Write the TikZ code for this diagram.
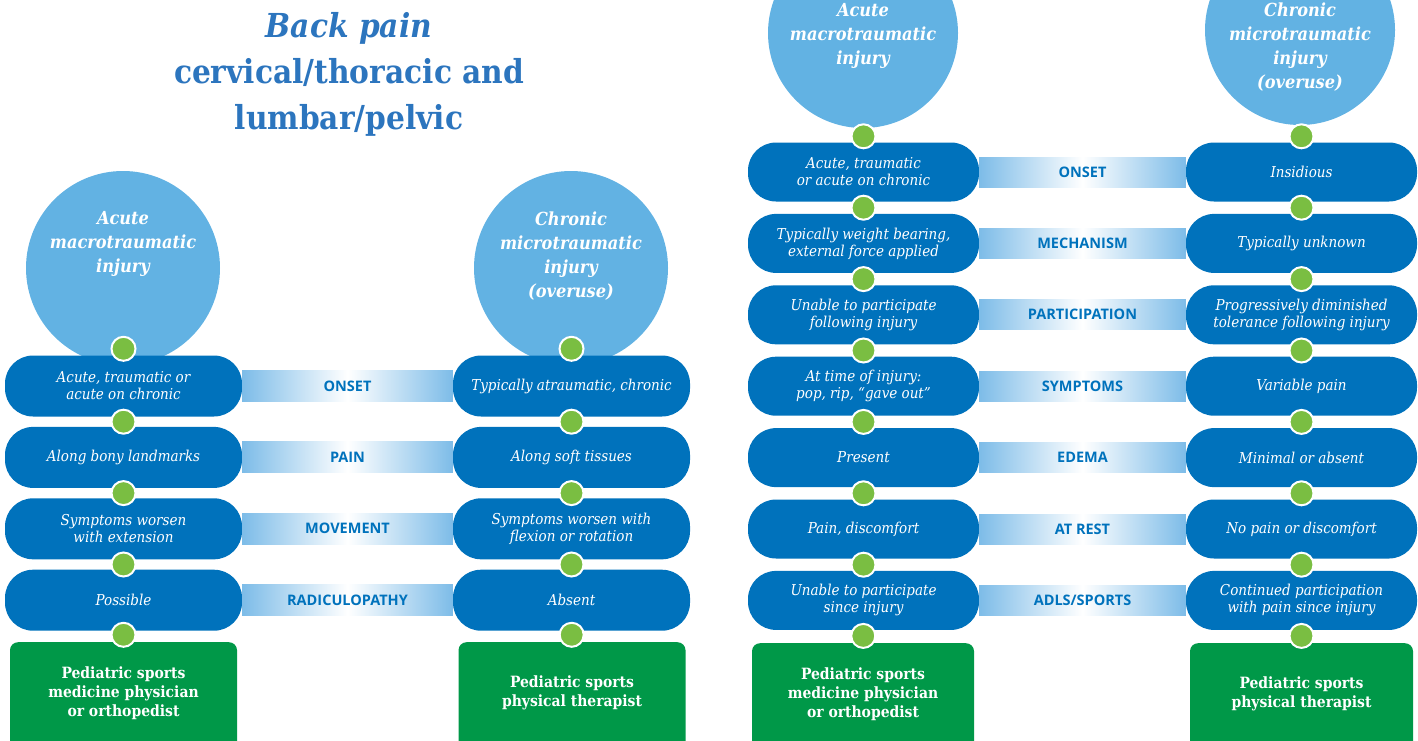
\documentclass[tikz,border=0pt]{standalone}
\usepackage{fontspec}
\setmainfont{DejaVu Serif Condensed}
\newfontfamily\capsfont{Open Sans}
\usetikzlibrary{positioning,calc}
\definecolor{titleblue}{RGB}{44,117,190}
\definecolor{pillblue}{RGB}{0,114,188}
\definecolor{circblue}{RGB}{98,178,227}
\definecolor{bandblue}{RGB}{125,188,232}
\definecolor{dotgreen}{RGB}{122,190,66}
\definecolor{boxgreen}{RGB}{0,152,72}
\tikzset{
  ttl/.style={text=titleblue,align=center,inner sep=0pt,font=\fontsize{33}{46}\selectfont\bfseries},
  bubble/.style={circle,fill=circblue,minimum size=194pt,inner sep=0pt},
  bubtext/.style={text=white,align=center,inner sep=0pt,font=\fontsize{18}{24}\selectfont\bfseries\itshape},
  pill/.style={fill=pillblue,rounded corners=28pt,minimum width=237pt,minimum height=61pt,inner sep=0pt,text=white,align=center,font=\fontsize{15}{17}\selectfont\itshape},
  pillB/.style={pill,minimum width=231pt,minimum height=59pt},
  band/.style={left color=bandblue,right color=bandblue,middle color=white},
  lbl/.style={text=pillblue,inner sep=0pt,font=\capsfont\bfseries\fontsize{14.5}{16}\selectfont},
  refer/.style={fill=boxgreen,rounded corners=8pt,minimum width=227pt,minimum height=116pt,text depth=18pt,inner sep=0pt,text=white,align=center,anchor=north,font=\fontsize{15.5}{19}\selectfont\bfseries},
  dot/.style={circle,fill=dotgreen,draw=white,line width=2pt,minimum size=24pt,inner sep=0pt}
}
\begin{document}
\begin{tikzpicture}[x=1pt,y=-1pt]
\clip (0,0) rectangle (1418,740);
\node[ttl] (ttl) at (349,74) {{\itshape Back pain}\\cervical/thoracic and\\lumbar/pelvic};
% cervical/thoracic and lumbar/pelvic
\node[bubble] (acA) at (123,268) {};
\node[bubble] (chA) at (571,268) {};
\node[bubtext] (acAt) at (123,244) {Acute\\macrotraumatic\\injury};
\node[bubtext] (chAt) at (571,256) {Chronic\\microtraumatic\\injury\\(overuse)};
\node[pill] (a1l) at (123.5,386) {Acute, traumatic or\\acute on chronic};
\node[pill,below=10pt of a1l] (a2l) {Along bony landmarks};
\node[pill,below=10pt of a2l] (a3l) {Symptoms worsen\\with extension};
\node[pill,below=10pt of a3l] (a4l) {Possible};
\node[pill] (a1r) at (571.5,386) {Typically atraumatic, chronic};
\node[pill,below=10pt of a1r] (a2r) {Along soft tissues};
\node[pill,below=10pt of a2r] (a3r) {Symptoms worsen with\\flexion or rotation};
\node[pill,below=10pt of a3r] (a4r) {Absent};
\shade[band] ($(a1l.east)+(0,-15.5)$) rectangle ($(a1r.west)+(0,15.5)$);
\shade[band] ($(a2l.east)+(0,-15.5)$) rectangle ($(a2r.west)+(0,15.5)$);
\shade[band] ($(a3l.east)+(0,-15.5)$) rectangle ($(a3r.west)+(0,15.5)$);
\shade[band] ($(a4l.east)+(0,-15.5)$) rectangle ($(a4r.west)+(0,15.5)$);
\node[lbl] (onA) at ($(a1l.east)!0.5!(a1r.west)$) {ONSET};
\node[lbl] (paA) at ($(a2l.east)!0.5!(a2r.west)$) {PAIN};
\node[lbl] (moA) at ($(a3l.east)!0.5!(a3r.west)$) {MOVEMENT};
\node[lbl] (raA) at ($(a4l.east)!0.5!(a4r.west)$) {RADICULOPATHY};
\node[refer] (gAl) at (123.5,642) {Pediatric sports\\medicine physician\\or orthopedist};
\node[refer] (gAr) at (572,642) {Pediatric sports\\physical therapist};
\node[dot] (dAl1) at ($(a1l.north)+(0,-6.5)$) {};
\node[dot] (dAl2) at ($(a1l.south)!0.5!(a2l.north)$) {};
\node[dot] (dAl3) at ($(a2l.south)!0.5!(a3l.north)$) {};
\node[dot] (dAl4) at ($(a3l.south)!0.5!(a4l.north)$) {};
\node[dot] (dAl5) at ($(a4l.south)!0.35!(gAl.north)$) {};
\node[dot] (dAr1) at ($(a1r.north)+(0,-6.5)$) {};
\node[dot] (dAr2) at ($(a1r.south)!0.5!(a2r.north)$) {};
\node[dot] (dAr3) at ($(a2r.south)!0.5!(a3r.north)$) {};
\node[dot] (dAr4) at ($(a3r.south)!0.5!(a4r.north)$) {};
\node[dot] (dAr5) at ($(a4r.south)!0.35!(gAr.north)$) {};
% second panel
\node[bubble,minimum size=190pt] (acB) at (863,33) {};
\node[bubble,minimum size=190pt] (chB) at (1300,30) {};
\node[bubtext] (acBt) at (863,36) {Acute\\macrotraumatic\\injury};
\node[bubtext] (chBt) at (1300,47) {Chronic\\microtraumatic\\injury\\(overuse)};
\node[pillB] (b1l) at (863.5,172) {Acute, traumatic\\or acute on chronic};
\node[pillB,below=12pt of b1l] (b2l) {Typically weight bearing,\\external force applied};
\node[pillB,below=12pt of b2l] (b3l) {Unable to participate\\following injury};
\node[pillB,below=12pt of b3l] (b4l) {At time of injury:\\pop, rip, “gave out”};
\node[pillB,below=12pt of b4l] (b5l) {Present};
\node[pillB,below=12pt of b5l] (b6l) {Pain, discomfort};
\node[pillB,below=12pt of b6l] (b7l) {Unable to participate\\since injury};
\node[pillB] (b1r) at (1301.5,172) {Insidious};
\node[pillB,below=12pt of b1r] (b2r) {Typically unknown};
\node[pillB,below=12pt of b2r] (b3r) {Progressively diminished\\tolerance following injury};
\node[pillB,below=12pt of b3r] (b4r) {Variable pain};
\node[pillB,below=12pt of b4r] (b5r) {Minimal or absent};
\node[pillB,below=12pt of b5r] (b6r) {No pain or discomfort};
\node[pillB,below=12pt of b6r] (b7r) {Continued participation\\with pain since injury};
\shade[band] ($(b1l.east)+(0,-15)$) rectangle ($(b1r.west)+(0,15)$);
\shade[band] ($(b2l.east)+(0,-15)$) rectangle ($(b2r.west)+(0,15)$);
\shade[band] ($(b3l.east)+(0,-15)$) rectangle ($(b3r.west)+(0,15)$);
\shade[band] ($(b4l.east)+(0,-15)$) rectangle ($(b4r.west)+(0,15)$);
\shade[band] ($(b5l.east)+(0,-15)$) rectangle ($(b5r.west)+(0,15)$);
\shade[band] ($(b6l.east)+(0,-15)$) rectangle ($(b6r.west)+(0,15)$);
\shade[band] ($(b7l.east)+(0,-15)$) rectangle ($(b7r.west)+(0,15)$);
\node[lbl] (onB) at ($(b1l.east)!0.5!(b1r.west)$) {ONSET};
\node[lbl] (meB) at ($(b2l.east)!0.5!(b2r.west)$) {MECHANISM};
\node[lbl] (pcB) at ($(b3l.east)!0.5!(b3r.west)$) {PARTICIPATION};
\node[lbl] (syB) at ($(b4l.east)!0.5!(b4r.west)$) {SYMPTOMS};
\node[lbl] (edB) at ($(b5l.east)!0.5!(b5r.west)$) {EDEMA};
\node[lbl] (reB) at ($(b6l.east)!0.5!(b6r.west)$) {AT REST};
\node[lbl] (adB) at ($(b7l.east)!0.5!(b7r.west)$) {ADLS/SPORTS};
\node[refer,minimum width=222pt] (gBl) at (863,643) {Pediatric sports\\medicine physician\\or orthopedist};
\node[refer,minimum width=223pt] (gBr) at (1301.5,643) {Pediatric sports\\physical therapist};
\node[dot] (dBl1) at ($(b1l.north)+(0,-6)$) {};
\node[dot] (dBl2) at ($(b1l.south)!0.5!(b2l.north)$) {};
\node[dot] (dBl3) at ($(b2l.south)!0.5!(b3l.north)$) {};
\node[dot] (dBl4) at ($(b3l.south)!0.5!(b4l.north)$) {};
\node[dot] (dBl5) at ($(b4l.south)!0.5!(b5l.north)$) {};
\node[dot] (dBl6) at ($(b5l.south)!0.5!(b6l.north)$) {};
\node[dot] (dBl7) at ($(b6l.south)!0.5!(b7l.north)$) {};
\node[dot] (dBl8) at ($(b7l.south)!0.45!(gBl.north)$) {};
\node[dot] (dBr1) at ($(b1r.north)+(0,-6)$) {};
\node[dot] (dBr2) at ($(b1r.south)!0.5!(b2r.north)$) {};
\node[dot] (dBr3) at ($(b2r.south)!0.5!(b3r.north)$) {};
\node[dot] (dBr4) at ($(b3r.south)!0.5!(b4r.north)$) {};
\node[dot] (dBr5) at ($(b4r.south)!0.5!(b5r.north)$) {};
\node[dot] (dBr6) at ($(b5r.south)!0.5!(b6r.north)$) {};
\node[dot] (dBr7) at ($(b6r.south)!0.5!(b7r.north)$) {};
\node[dot] (dBr8) at ($(b7r.south)!0.45!(gBr.north)$) {};
\end{tikzpicture}
\end{document}
